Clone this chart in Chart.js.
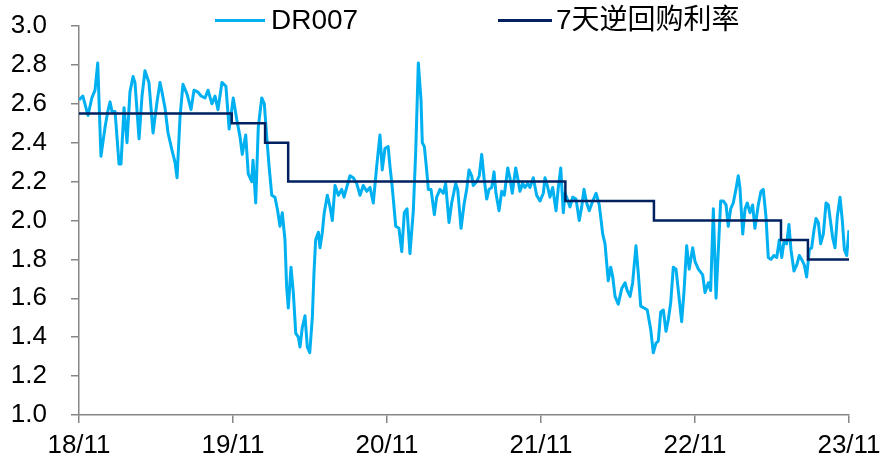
<!DOCTYPE html>
<html>
<head>
<meta charset="utf-8">
<script src="https://cdn.jsdelivr.net/npm/chart.js@4/dist/chart.umd.min.js"></script>
<style>
  body { margin: 0; background: #fff; }
  #wrap { position: relative; width: 885px; height: 462px; }
  .key { position: absolute; height: 3px; }
  .lbl { position: absolute; top: 4px; line-height: 32px; font-size: 28px; color: #000;
         font-family: "Liberation Sans", Arial, "Noto Sans CJK SC", sans-serif; white-space: nowrap; }
</style>
</head>
<body>
<div id="wrap">
  <canvas id="rateChart" width="885" height="462"></canvas>
  <div class="key" style="left:215px; top:19px; width:50px; background:#00B0F0;"></div>
  <div class="lbl" style="left:271px;">DR007</div>
  <div class="key" style="left:498px; top:19px; width:54px; background:#002060;"></div>
  <div class="lbl" style="left:556px;">7天逆回购利率</div>
</div>
<script>
// x values are months counted from 2018/11
const xTickLabels = ['18/11', '19/11', '20/11', '21/11', '22/11', '23/11'];

const drMonths = [
  0.0, 0.3, 0.7, 1.0, 1.25, 1.46, 1.71, 2.03, 2.24, 2.42, 2.57, 2.81, 3.12, 3.27, 3.51, 3.74, 3.97,
  4.21, 4.36, 4.68, 4.91, 5.14, 5.45, 5.77, 6.08, 6.31, 6.47, 6.70, 6.94, 7.25, 7.48, 7.64, 7.87,
  8.10, 8.42, 8.73, 8.96, 9.27, 9.51, 9.82, 10.05, 10.36, 10.60, 10.83, 11.14, 11.45, 11.70, 12.02,
  12.29, 12.55, 12.72, 12.99, 13.19, 13.46, 13.56, 13.77, 13.97, 14.24, 14.44, 14.63, 14.81, 15.02,
  15.27, 15.48, 15.66, 15.84, 16.05, 16.18, 16.31, 16.52, 16.70, 16.89, 17.09, 17.22, 17.40, 17.61,
  17.79, 17.98, 18.18, 18.31, 18.44, 18.65, 18.78, 18.96, 19.11, 19.35, 19.56, 19.74, 19.95, 20.21,
  20.47, 20.65, 20.86, 21.12, 21.37, 21.64, 21.90, 22.15, 22.42, 22.68, 22.93, 23.20, 23.45, 23.63,
  23.84, 24.09, 24.23, 24.41, 24.68, 24.93, 25.15, 25.35, 25.56, 25.79, 26.05, 26.24, 26.44, 26.65,
  26.75, 26.91, 27.09, 27.22, 27.43, 27.69, 27.87, 28.13, 28.39, 28.57, 28.83, 29.04, 29.35, 29.51,
  29.77, 30.02, 30.21, 30.39, 30.60, 30.72, 30.99, 31.19, 31.38, 31.56, 31.77, 31.95, 32.16, 32.34,
  32.49, 32.73, 32.94, 33.14, 33.41, 33.58, 33.76, 34.03, 34.18, 34.36, 34.57, 34.75, 34.96, 35.14,
  35.40, 35.66, 35.92, 36.18, 36.31, 36.49, 36.70, 36.91, 37.17, 37.35, 37.54, 37.74, 37.87, 38.05,
  38.26, 38.47, 38.73, 38.98, 39.17, 39.35, 39.56, 39.76, 40.03, 40.29, 40.54, 40.81, 40.99, 41.12,
  41.24, 41.43, 41.59, 41.77, 42.02, 42.29, 42.55, 42.72, 42.94, 43.14, 43.40, 43.58, 43.77, 44.03,
  44.28, 44.55, 44.75, 44.96, 45.14, 45.33, 45.53, 45.74, 45.92, 46.11, 46.31, 46.52, 46.70, 46.96,
  47.14, 47.35, 47.55, 47.82, 48.00, 48.26, 48.60, 48.78, 49.04, 49.22, 49.43, 49.64, 49.82, 50.00,
  50.21, 50.42, 50.59, 50.78, 50.98, 51.19, 51.37, 51.50, 51.72, 51.90, 52.07, 52.28, 52.49, 52.67,
  52.93, 53.14, 53.32, 53.53, 53.71, 53.92, 54.15, 54.37, 54.57, 54.76, 54.93, 55.14, 55.32, 55.48,
  55.71, 55.92, 56.13, 56.31, 56.52, 56.70, 56.91, 57.09, 57.27, 57.43, 57.61, 57.79, 58.00, 58.21,
  58.39, 58.57, 58.73, 58.91, 59.09, 59.30, 59.48, 59.64, 59.82, 60.0
];

const drValues = [
  2.62, 2.64, 2.54, 2.63, 2.67, 2.81, 2.33, 2.48, 2.56, 2.61, 2.56, 2.56, 2.29, 2.29, 2.58, 2.40, 2.66,
  2.74, 2.71, 2.42, 2.64, 2.77, 2.71, 2.45, 2.61, 2.71, 2.66, 2.58, 2.45, 2.36, 2.30, 2.22, 2.53,
  2.70, 2.65, 2.57, 2.67, 2.66, 2.64, 2.63, 2.67, 2.60, 2.64, 2.57, 2.71, 2.69, 2.47, 2.63,
  2.52, 2.43, 2.34, 2.44, 2.24, 2.20, 2.31, 2.09, 2.48, 2.63, 2.60, 2.43, 2.28, 2.13,
  2.12, 2.05, 1.97, 2.04, 1.90, 1.66, 1.55, 1.76, 1.63, 1.42, 1.40, 1.35, 1.45, 1.51,
  1.35, 1.32, 1.50, 1.73, 1.90, 1.94, 1.86, 1.94, 2.04, 2.13, 2.07, 2.00, 2.18, 2.13,
  2.16, 2.12, 2.17, 2.23, 2.22, 2.19, 2.13, 2.18, 2.15, 2.17, 2.09, 2.28, 2.44, 2.26,
  2.37, 2.38, 2.28, 2.17, 1.97, 1.96, 1.84, 2.04, 2.06, 1.83, 2.05, 2.36, 2.81, 2.62,
  2.40, 2.38, 2.26, 2.16, 2.16, 2.03, 2.12, 2.16, 2.14, 2.19, 1.99, 2.09, 2.19, 2.16,
  1.96, 2.09, 2.16, 2.26, 2.23, 2.18, 2.20, 2.23, 2.34, 2.22, 2.11, 2.16, 2.17, 2.25,
  2.14, 2.05, 2.15, 2.13, 2.27, 2.22, 2.14, 2.27, 2.22, 2.15, 2.19, 2.17, 2.19, 2.17,
  2.22, 2.13, 2.10, 2.14, 2.22, 2.18, 2.12, 2.17, 2.05, 2.17, 2.27, 2.04, 2.14, 2.11,
  2.07, 2.12, 2.11, 2.00, 2.07, 2.16, 2.09, 2.05, 2.10, 2.14, 2.08, 1.93, 1.88, 1.78,
  1.69, 1.76, 1.71, 1.61, 1.57, 1.65, 1.68, 1.64, 1.61, 1.68, 1.87, 1.73, 1.56, 1.55,
  1.54, 1.44, 1.32, 1.37, 1.38, 1.53, 1.54, 1.43, 1.49, 1.58, 1.76, 1.75, 1.64, 1.48,
  1.63, 1.87, 1.75, 1.86, 1.79, 1.75, 1.72, 1.63, 1.68, 1.64, 2.06, 1.60, 1.85, 2.10,
  2.10, 2.08, 1.97, 2.06, 2.09, 2.16, 2.23, 2.17, 1.93, 2.06, 2.09, 2.04, 2.08, 1.96,
  2.08, 2.15, 2.16, 2.02, 1.81, 1.80, 1.82, 1.81, 1.90, 1.81, 1.89, 1.88, 1.98, 1.85,
  1.74, 1.77, 1.82, 1.80, 1.77, 1.71, 1.85, 1.86, 1.95, 2.01, 1.99, 1.88, 1.93, 2.09,
  2.08, 1.99, 1.91, 1.86, 2.02, 2.12, 2.00, 1.85, 1.82, 1.95
];

// 7-day reverse repo rate, value changes at each listed month
const repoMonths = [0, 11.9, 14.5, 16.3, 37.9, 44.8, 54.7, 56.8, 60];
const repoValues = [2.55, 2.50, 2.40, 2.20, 2.10, 2.00, 1.90, 1.80, 1.80];

const axisGray = '#868686';
const tickFont = { family: '"Liberation Sans", Arial, sans-serif', size: 26 };

const ctx = document.getElementById('rateChart').getContext('2d');
new Chart(ctx, {
  type: 'line',
  data: {
    datasets: [
      {
        label: '7天逆回购利率',
        data: repoMonths.map((m, i) => ({ x: m, y: repoValues[i] })),
        borderColor: '#002060',
        borderWidth: 2.5,
        pointRadius: 0,
        stepped: 'before',
        fill: false
      },
      {
        label: 'DR007',
        data: drMonths.map((m, i) => ({ x: m, y: drValues[i] })),
        borderColor: '#00B0F0',
        borderWidth: 3,
        borderJoinStyle: 'round',
        pointRadius: 0,
        tension: 0,
        fill: false
      }
    ]
  },
  options: {
    responsive: false,
    animation: false,
    layout: { padding: { top: 26, right: 36, left: 0, bottom: 0 } },
    plugins: {
      legend: { display: false },
      tooltip: { enabled: false }
    },
    scales: {
      x: {
        type: 'linear',
        min: 0,
        max: 60,
        afterFit: scale => {
          scale.height = 47;
          scale.paddingLeft = 0;
          scale.paddingRight = 0;
        },
        ticks: {
          stepSize: 12,
          autoSkip: false,
          maxRotation: 0,
          padding: 7,
          color: '#000',
          font: tickFont,
          callback: v => xTickLabels[Math.round(v / 12)]
        },
        grid: { drawOnChartArea: false, drawTicks: true, tickLength: 8, color: axisGray, lineWidth: 1.5 },
        border: { color: axisGray, width: 1.5 }
      },
      y: {
        min: 1.0,
        max: 3.0,
        afterFit: scale => {
          scale.width = 79;
          scale.paddingTop = 0;
          scale.paddingBottom = 0;
        },
        ticks: {
          stepSize: 0.2,
          padding: 24,
          color: '#000',
          font: tickFont,
          callback: v => Number(v).toFixed(1)
        },
        grid: { drawOnChartArea: false, drawTicks: true, tickLength: 8, color: axisGray, lineWidth: 1.5 },
        border: { color: axisGray, width: 1.5 }
      }
    }
  }
});
</script>
</body>
</html>
